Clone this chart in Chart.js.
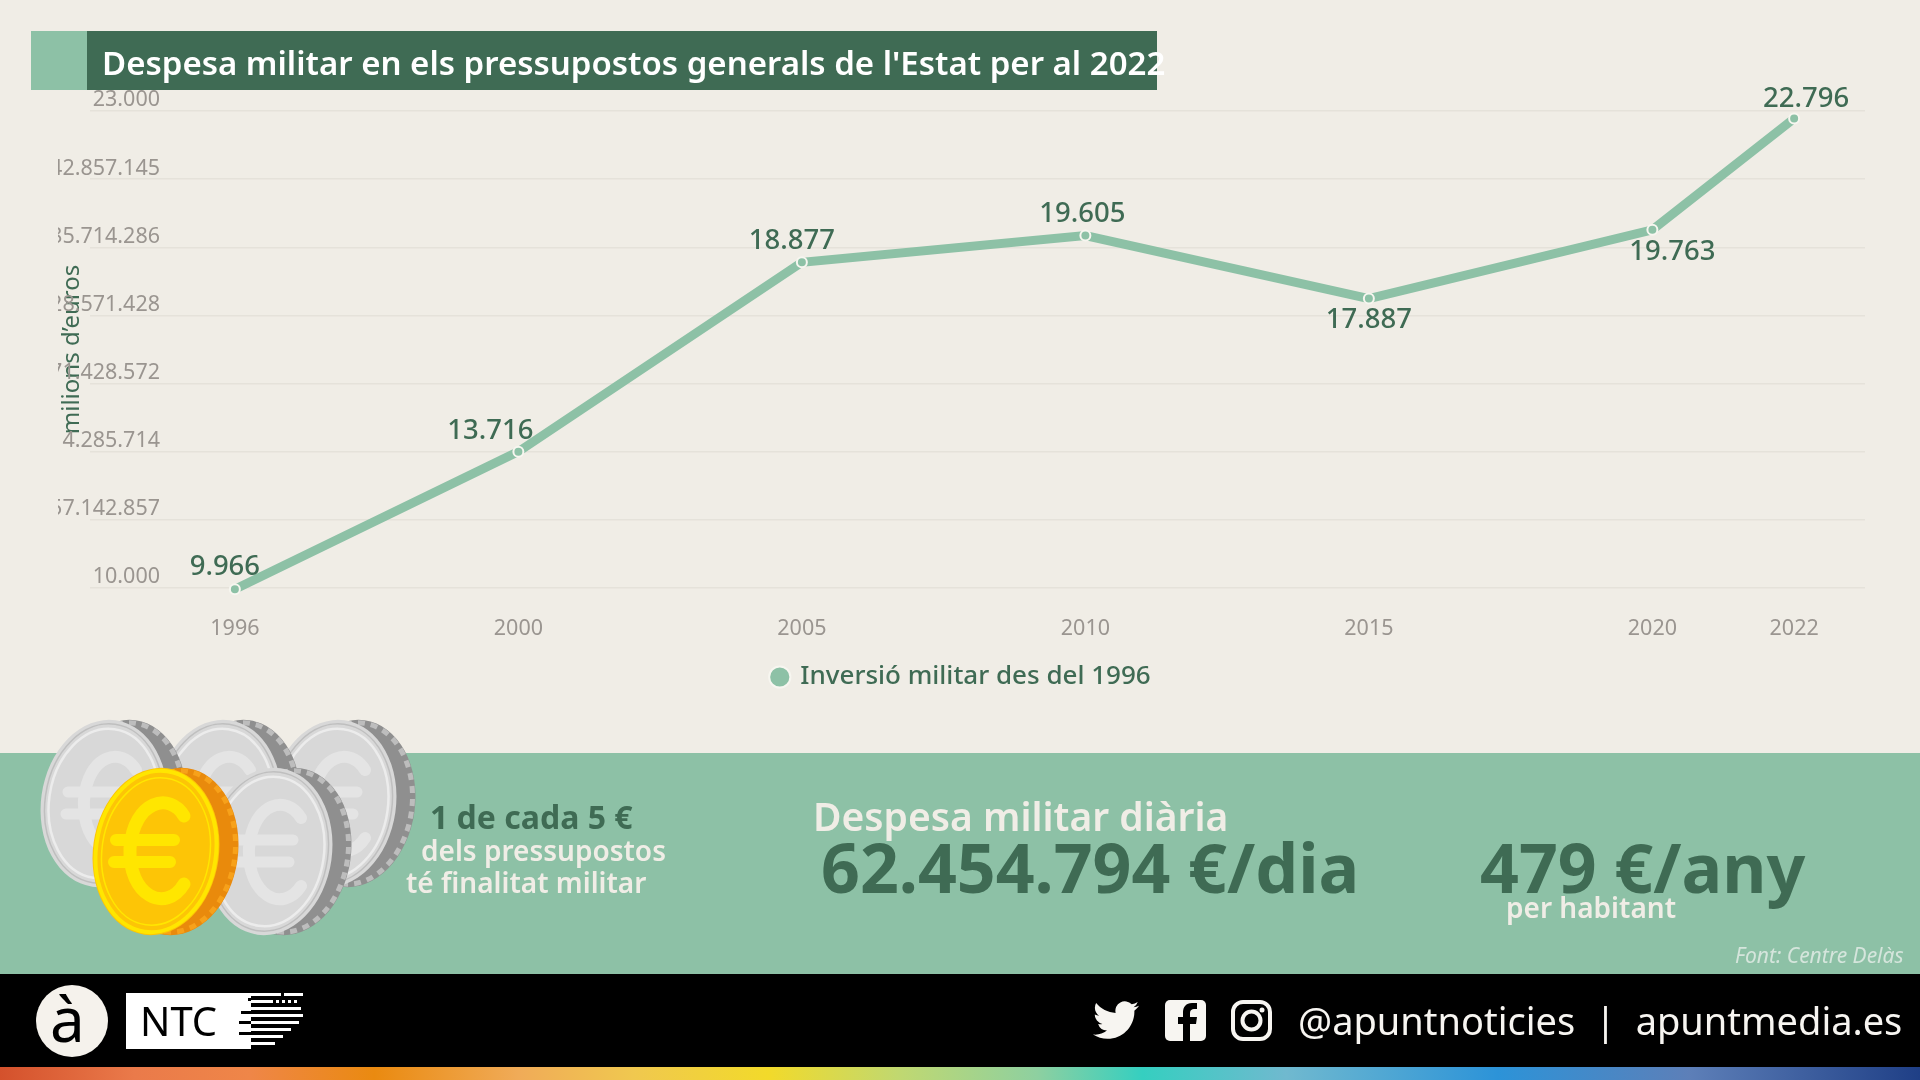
<!DOCTYPE html>
<html lang="ca">
<head>
<meta charset="utf-8">
<title>Despesa militar</title>
<script src="https://cdn.jsdelivr.net/npm/chart.js@4"></script>
<style>
  html, body { margin: 0; padding: 0; }
  body { width: 1920px; height: 1080px; position: relative; overflow: hidden; background: #f0ede6; font-family: "Noto Sans", sans-serif; }
  #chart { position: absolute; left: 0; top: 0; }
  .box { position: absolute; }
  .txt { position: absolute; white-space: nowrap; line-height: 1; transform: translateY(-50%); }
  .dark { color: #3f6b54; }
  .cream { color: #f0ede6; }
  svg { position: absolute; left: 0; top: 0; }
</style>
</head>
<body>

<div class="box" style="left:0;top:753px;width:1920px;height:221px;background:#8dc1a6"></div>
<div class="box" style="left:0;top:974px;width:1920px;height:94px;background:#000"></div>
<div class="box" style="left:0;top:1067px;width:1920px;height:13px;background:linear-gradient(90deg,#d4512c 0%,#ea7a4a 7%,#ef8648 13%,#ea8a10 19.5%,#f0ab58 27%,#f0c84f 33%,#f2da2a 40%,#bfd872 47%,#8ed0a0 54%,#35cfc0 59.5%,#70b9cf 67%,#2c93d8 78%,#5d7fb8 88%,#1f3f86 100%)"></div>

<canvas id="chart" width="1920" height="700"></canvas>

<!-- titol -->
<div class="box" style="left:31px;top:31px;width:56px;height:59px;background:#8dc1a6"></div>
<div class="box" style="left:87px;top:31px;width:1070px;height:59px;background:#3f6b54"></div>
<div class="txt" style="left:102px;top:62px;font-size:33px;font-weight:600;color:#fff">Despesa militar en els pressupostos generals de l'Estat per al 2022</div>

<!-- monedes -->
<svg width="1920" height="1080" viewBox="0 0 1920 1080">
  <defs>
    <g id="silver">
      <ellipse cx="84" cy="83.5" rx="62" ry="84" transform="rotate(8 84 83.5)" fill="#8f8f8f"/>
      <ellipse cx="84" cy="83.5" rx="59" ry="81" transform="rotate(8 84 83.5)" fill="none" stroke="#bdbdbd" stroke-width="5" stroke-dasharray="7 6"/>
      <ellipse cx="64" cy="83.5" rx="63" ry="84" transform="rotate(8 64 83.5)" fill="#d8d8d8"/>
      <ellipse cx="64" cy="83.5" rx="55" ry="75" transform="rotate(8 64 83.5)" fill="none" stroke="#ececec" stroke-width="2.5"/>
      <ellipse cx="64" cy="83.5" rx="59" ry="80" transform="rotate(8 64 83.5)" fill="none" stroke="#bfbfbf" stroke-width="1.5"/>
      <path d="M96 50 C82 26 48 34 44 80 C42 128 78 146 96 118" fill="none" stroke="#e4e4e4" stroke-width="12" stroke-linecap="round"/>
      <path d="M28 72 H88 M26 94 H84" fill="none" stroke="#e4e4e4" stroke-width="11" stroke-linecap="round"/>
    </g>
    <g id="gold">
      <ellipse cx="84" cy="83.5" rx="62" ry="84" transform="rotate(8 84 83.5)" fill="#e98a0c"/>
      <ellipse cx="84" cy="83.5" rx="59" ry="81" transform="rotate(8 84 83.5)" fill="none" stroke="#f7a11a" stroke-width="5" stroke-dasharray="7 6"/>
      <ellipse cx="64" cy="83.5" rx="63" ry="84" transform="rotate(8 64 83.5)" fill="#fdc506"/>
      <ellipse cx="64" cy="83.5" rx="60" ry="81" transform="rotate(8 64 83.5)" fill="none" stroke="#ffe600" stroke-width="4"/>
      <ellipse cx="64" cy="83.5" rx="54" ry="74" transform="rotate(8 64 83.5)" fill="none" stroke="#ffe600" stroke-width="1.5"/>
      <path d="M92 48 C78 24 42 32 38 80 C36 128 74 146 92 116" fill="none" stroke="#ffe600" stroke-width="13" stroke-linecap="round"/>
      <path d="M24 72 H82 M22 94 H78" fill="none" stroke="#ffe600" stroke-width="12" stroke-linecap="round"/>
    </g>
  </defs>
  <use href="#silver" x="269" y="720"/>
  <use href="#silver" x="154" y="720"/>
  <use href="#silver" x="40" y="720"/>
  <use href="#silver" x="205" y="768"/>
  <use href="#gold" x="92" y="768"/>

  <!-- logo NTC -->
  <circle cx="72" cy="1021" r="36" fill="#f5f2ec"/>
  <rect x="126" y="993" width="125" height="56" fill="#fff"/>
  <g fill="#000">
    <rect x="248" y="998" width="3" height="3"/><rect x="241" y="1011" width="10" height="3"/>
    <rect x="239" y="1021" width="12" height="3"/><rect x="239" y="1032" width="12" height="3"/>
  </g>
  <g fill="#fff">
    <rect x="251" y="993" width="30" height="3"/><rect x="284" y="993" width="19" height="3"/>
    <rect x="251" y="1000" width="22" height="3"/><rect x="276" y="1000" width="3" height="3"/><rect x="282" y="1000" width="3" height="3"/><rect x="288" y="1000" width="3" height="3"/><rect x="294" y="1000" width="3" height="3"/>
    <rect x="251" y="1007" width="50" height="3"/>
    <rect x="251" y="1014" width="52" height="3"/>
    <rect x="251" y="1021" width="48" height="3"/>
    <rect x="251" y="1028" width="40" height="3"/>
    <rect x="251" y="1035" width="32" height="3"/>
    <rect x="251" y="1042" width="24" height="3"/>
  </g>

  <!-- xarxes -->
  <path transform="translate(1093 997) scale(1.92)" fill="#f7f5f1" d="M23.953 4.57a10 10 0 01-2.825.775 4.958 4.958 0 002.163-2.723c-.951.555-2.005.959-3.127 1.184a4.92 4.92 0 00-8.384 4.482C7.69 8.095 4.067 6.13 1.64 3.162a4.822 4.822 0 00-.666 2.475c0 1.71.87 3.213 2.188 4.096a4.904 4.904 0 01-2.228-.616v.06a4.923 4.923 0 003.946 4.827 4.996 4.996 0 01-2.212.085 4.936 4.936 0 004.604 3.417 9.867 9.867 0 01-6.102 2.105c-.39 0-.779-.023-1.17-.067a13.995 13.995 0 007.557 2.209c9.053 0 13.998-7.496 13.998-13.985 0-.21 0-.42-.015-.63A9.935 9.935 0 0024 4.59z"/>
  <rect x="1165" y="1000" width="41" height="41" rx="5" fill="#f7f5f1"/>
  <path d="M1190 1041 V1024 H1196 L1197 1017 H1190 V1013 C1190 1010 1192 1009 1194 1009 H1197 V1003 H1192 C1186 1003 1183 1007 1183 1012 V1017 H1178 V1024 H1183 V1041 Z" fill="#000"/>
  <rect x="1233" y="1002" width="37" height="37" rx="10" fill="none" stroke="#f7f5f1" stroke-width="4"/>
  <circle cx="1251.5" cy="1020.5" r="9" fill="none" stroke="#f7f5f1" stroke-width="4"/>
  <circle cx="1262" cy="1010" r="2.5" fill="#f7f5f1"/>
</svg>

<div class="txt" style="left:50px;top:1018px;font-size:62px;color:#000">à</div>
<div class="txt" style="left:140px;top:1021px;font-size:40px;color:#000">NTC</div>

<div class="txt dark" style="left:430px;top:817px;font-size:32px;font-weight:700">1 de cada 5 €</div>
<div class="txt cream" style="left:421px;top:850px;font-size:28px;font-weight:600">dels pressupostos</div>
<div class="txt cream" style="left:406px;top:882px;font-size:28px;font-weight:600">té finalitat militar</div>
<div class="txt cream" style="left:813px;top:815px;font-size:39px;font-weight:600">Despesa militar diària</div>
<div class="txt dark" style="left:821px;top:867px;font-size:68px;font-weight:700">62.454.794 €/dia</div>
<div class="txt dark" style="left:1480px;top:867px;font-size:68px;font-weight:700">479 €/any</div>
<div class="txt cream" style="left:1506px;top:907px;font-size:28px;font-weight:600">per habitant</div>
<div class="txt" style="left:1735px;top:955px;font-size:21px;font-style:italic;color:#d5e5dc">Font: Centre Delàs</div>
<div class="txt" style="left:1298px;top:1020px;font-size:38px;color:#f7f5f1">@apuntnoticies&nbsp;&nbsp;|&nbsp;&nbsp;apuntmedia.es</div>

<script>
// dades llegides del grafic
const categories = ['1996', '', '2000', '', '2005', '', '2010', '', '2015', '', '2020', '2022'];
const inversio   = [9966, null, 13716, null, 18877, null, 19605, null, 17887, null, 19763, 22796];
const serieName  = 'Inversió militar des del 1996';
const yTitle     = 'milions d’euros';

// desplaçament de cada etiqueta respecte al punt
const labelOffsets = { 1996: [-10, -22], 2000: [-28, -20], 2005: [-10, -21], 2010: [-3, -21], 2015: [0, 22], 2020: [20, 22], 2022: [12, -19] };

const GREEN = '#8dc1a6', DARK = '#3f6b54';
const fmt = v => v.toString().replace(/\B(?=(\d{3})+$)/g, '.');

// etiquetes de valor sobre la linia
const valueLabels = {
  id: 'valueLabels',
  afterDatasetsDraw(chart) {
    const { ctx } = chart;
    const pts = chart.getDatasetMeta(0).data;
    ctx.save();
    ctx.font = '500 27.5px "Noto Sans"';
    ctx.fillStyle = DARK;
    ctx.textAlign = 'center';
    ctx.textBaseline = 'middle';
    inversio.forEach((v, i) => {
      if (v === null) return;
      const [dx, dy] = labelOffsets[categories[i]];
      ctx.fillText(fmt(v), pts[i].x + dx, pts[i].y + dy);
    });
    ctx.restore();
  }
};

new Chart(document.getElementById('chart'), {
  type: 'line',
  data: {
    labels: categories,
    datasets: [{
      label: serieName,
      data: inversio,
      spanGaps: true,
      clip: false,
      tension: 0,
      borderColor: GREEN,
      backgroundColor: GREEN,
      borderWidth: 9,
      pointRadius: 5,
      pointBorderWidth: 2,
      pointBackgroundColor: GREEN,
      pointBorderColor: '#f7f6f0'
    }]
  },
  options: {
    responsive: false,
    animation: false,
    devicePixelRatio: 1,
    layout: { padding: { left: 58, right: 55, top: 111, bottom: 0 } },
    plugins: {
      tooltip: { enabled: false },
      title: { display: false },
      legend: {
        position: 'bottom',
        labels: {
          usePointStyle: true,
          pointStyle: 'circle',
          boxWidth: 15,
          boxHeight: 15,
          padding: 20,
          color: DARK,
          font: { family: '"Noto Sans"', size: 26, weight: 500 }
        }
      }
    },
    scales: {
      x: {
        offset: true,
        grid: { display: false },
        border: { display: false },
        afterFit(scale) { scale.height = 56; },
        ticks: {
          autoSkip: false,
          maxRotation: 0,
          padding: 20,
          color: '#9a9590',
          font: { family: '"Noto Sans"', size: 21.5 }
        }
      },
      y: {
        min: 10000,
        max: 23000,
        border: { display: false },
        grid: { color: '#e5e2da', lineWidth: 1.5, tickLength: 74, tickColor: '#e5e2da' },
        afterFit(scale) { scale.width = 106; },
        title: {
          display: true,
          text: yTitle,
          color: DARK,
          padding: 0,
          font: { family: '"Noto Sans"', size: 24 }
        },
        ticks: {
          stepSize: 2000,
          includeBounds: false,
          align: 'end',
          padding: -70,
          color: '#9a9590',
          font: { family: '"Noto Sans"', size: 21.5 },
          callback: v => fmt(v)
        }
      }
    }
  },
  plugins: [valueLabels]
});
</script>
</body>
</html>
